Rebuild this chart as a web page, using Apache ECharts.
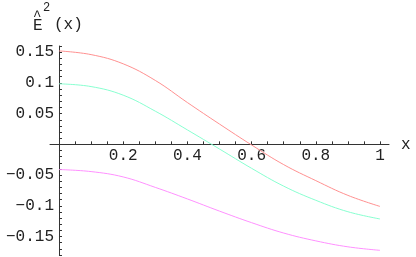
<!DOCTYPE html>
<html>
<head>
<meta charset="utf-8">
<script src="https://cdn.jsdelivr.net/npm/echarts@6/dist/echarts.min.js"></script>
<style>html,body{margin:0;padding:0;background:#fff}#c{width:416px;height:257px}</style>
</head>
<body>
<div id="c"></div>
<script>
var xValues = [0, 0.1, 0.2, 0.3, 0.4, 0.5, 0.6, 0.7, 0.8, 0.9, 1.0];
var redValues = [0.152, 0.146, 0.131, 0.104, 0.068, 0.033, -0.001, -0.033, -0.059, -0.083, -0.101];
var cyanValues = [0.0985, 0.094, 0.080, 0.054, 0.0235, -0.0076, -0.039, -0.068, -0.091, -0.1096, -0.1214];
var magentaValues = [-0.041, -0.0443, -0.053, -0.070, -0.0888, -0.1086, -0.1274, -0.1443, -0.157, -0.1667, -0.1724];
var xTickLabels = [0.2, 0.4, 0.6, 0.8, 1];
var xTicks = [0.05, 0.1, 0.15, 0.2, 0.25, 0.3, 0.35, 0.4, 0.45, 0.5, 0.55, 0.6, 0.65, 0.7, 0.75, 0.8, 0.85, 0.9, 0.95, 1];
var yTickLabels = [-0.15, -0.1, -0.05, 0.05, 0.1, 0.15];

var xMin = -0.028, xMax = 1.028, yMin = -0.18, yMax = 0.16;
var gridLeft = 50, gridWidth = 339, gridTop = 46, gridHeight = 209;
// axes cross at (0,0): shift them from the grid edges to the zero lines
var yAxisShift = (0 - xMin) / (xMax - xMin) * gridWidth;
var xAxisShift = (0 - yMin) / (yMax - yMin) * gridHeight;

function pairs(xs, ys) { return xs.map(function (x, i) { return [x, ys[i]]; }); }
function fmt(v) {
  var s = String(Math.round(v * 1000) / 1000);
  return s.replace('-', '\u2212');
}
function yFmt(v) {
  var r = Math.round(v * 1000) / 1000;
  for (var i = 0; i < yTickLabels.length; i++) {
    if (Math.abs(yTickLabels[i] - r) < 1e-6) return fmt(r);
  }
  return '';
}
var font = 'Liberation Mono';
var axisColor = '#333';

var chart = echarts.init(document.getElementById('c'), null, { renderer: 'canvas' });
chart.setOption({
  animation: false,
  grid: { left: gridLeft, width: gridWidth, top: gridTop, height: gridHeight, containLabel: false, outerBoundsMode: 'none' },
  xAxis: {
    type: 'value', min: xMin, max: xMax, position: 'bottom', offset: -xAxisShift,
    axisLine: { show: true, onZero: false, lineStyle: { color: axisColor, width: 1 } },
    axisTick: { show: true, inside: true, length: 3, customValues: xTicks, lineStyle: { color: axisColor } },
    axisLabel: { show: true, customValues: xTickLabels, formatter: fmt, margin: 3, color: '#222', fontFamily: font, fontSize: 16 },
    splitLine: { show: false },
    name: 'x', nameLocation: 'end', nameGap: 12,
    nameTextStyle: { fontFamily: font, fontSize: 16, color: '#222', align: 'left', verticalAlign: 'middle' }
  },
  yAxis: {
    type: 'value', min: yMin, max: yMax, interval: 0.01, position: 'left', offset: -yAxisShift,
    axisLine: { show: true, onZero: false, lineStyle: { color: axisColor, width: 1 } },
    axisTick: { show: true, inside: true, length: 3, lineStyle: { color: axisColor } },
    axisLabel: { show: true, formatter: yFmt, margin: 5, color: '#222', fontFamily: font, fontSize: 16, showMinLabel: true, showMaxLabel: true, hideOverlap: false },
    splitLine: { show: false }
  },
  series: [
    { type: 'line', data: pairs(xValues, redValues), smooth: 0.4, showSymbol: false, lineStyle: { color: '#ff9090', width: 1 } },
    { type: 'line', data: pairs(xValues, cyanValues), smooth: 0.4, showSymbol: false, lineStyle: { color: '#88ffd0', width: 1 } },
    { type: 'line', data: pairs(xValues, magentaValues), smooth: 0.4, showSymbol: false, lineStyle: { color: '#ff90ff', width: 1 } }
  ],
  graphic: [
    { type: 'text', left: 33, top: 18, style: { text: 'E', fontFamily: font, fontSize: 16, fill: '#222' } },
    { type: 'text', left: 33, top: 9, style: { text: '^', fontFamily: font, fontSize: 14, fill: '#222' } },
    { type: 'text', left: 43, top: 2, style: { text: '2', fontFamily: font, fontSize: 12, fill: '#222' } },
    { type: 'text', left: 54, top: 17, style: { text: '(x)', fontFamily: font, fontSize: 16, fill: '#222' } }
  ]
});
</script>
</body>
</html>
